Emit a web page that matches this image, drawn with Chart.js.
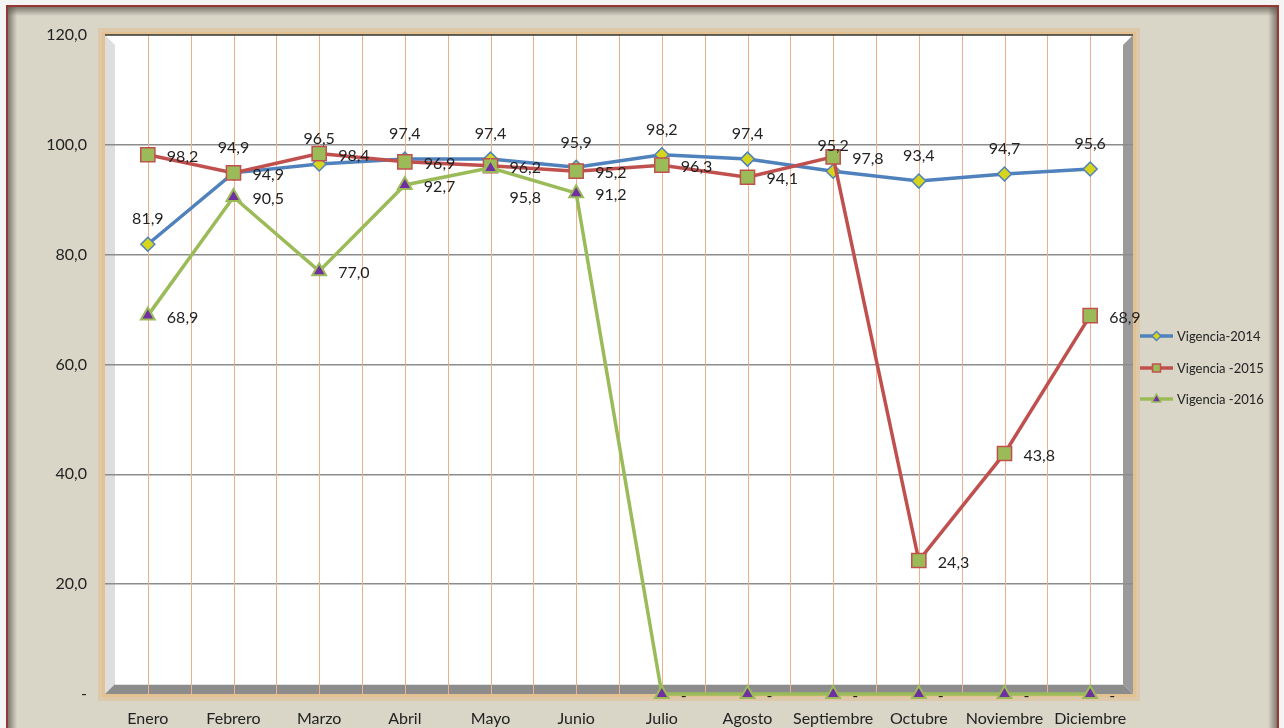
<!DOCTYPE html>
<html>
<head>
<meta charset="utf-8">
<script src="https://cdn.jsdelivr.net/npm/chart.js@4.4.0/dist/chart.umd.min.js"></script>
<style>
  html, body { margin: 0; padding: 0; background: #f4f4f4; }
  #wrap { width: 1284px; height: 728px; }
</style>
</head>
<body>
<div id="wrap"><canvas id="c" width="1284" height="728"></canvas></div>
<script>
const categories = ['Enero','Febrero','Marzo','Abril','Mayo','Junio','Julio','Agosto','Septiembre','Octubre','Noviembre','Diciembre'];
const seriesNames = ['Vigencia-2014','Vigencia -2015','Vigencia -2016'];
const vigencia2014 = [81.9, 94.9, 96.5, 97.4, 97.4, 95.9, 98.2, 97.4, 95.2, 93.4, 94.7, 95.6];
const vigencia2015 = [98.2, 94.9, 98.4, 96.9, 96.2, 95.2, 96.3, 94.1, 97.8, 24.3, 43.8, 68.9];
const vigencia2016 = [68.9, 90.5, 77.0, 92.7, 95.8, 91.2, 0, 0, 0, 0, 0, 0];
const yTicks = [0, 20, 40, 60, 80, 100, 120];

const FONT = 'Lato, "Open Sans", sans-serif';
const fmt = v => v === 0 ? '-' : v.toFixed(1).replace('.', ',');

const framePlugin = {
  id: 'frame',
  beforeDraw(chart) {
    const ctx = chart.ctx, a = chart.chartArea;
    ctx.save();
    ctx.fillStyle = '#f4f4f4';
    ctx.fillRect(0, 0, 1284, 728);
    const fx = 7, fy = 6, fw = 1278 - 7, fh = 740;
    ctx.fillStyle = '#d9d6c8';
    ctx.fillRect(fx, fy, fw, fh);
    let g = ctx.createLinearGradient(fx, 0, fx + 10, 0);
    g.addColorStop(0, 'rgba(90,85,75,0.8)'); g.addColorStop(1, 'rgba(90,85,75,0)');
    ctx.fillStyle = g; ctx.fillRect(fx, fy, 10, fh);
    g = ctx.createLinearGradient(0, fy, 0, fy + 10);
    g.addColorStop(0, 'rgba(90,85,75,0.8)'); g.addColorStop(1, 'rgba(90,85,75,0)');
    ctx.fillStyle = g; ctx.fillRect(fx, fy, fw, 10);
    g = ctx.createLinearGradient(fx + fw, 0, fx + fw - 10, 0);
    g.addColorStop(0, 'rgba(90,85,75,0.8)'); g.addColorStop(1, 'rgba(90,85,75,0)');
    ctx.fillStyle = g; ctx.fillRect(fx + fw - 10, fy, 10, fh);
    ctx.strokeStyle = '#953735'; ctx.lineWidth = 2;
    ctx.strokeRect(fx, fy, fw, fh);

    // plot area glow border
    ctx.strokeStyle = 'rgba(226,186,130,0.45)'; ctx.lineWidth = 7;
    ctx.strokeRect(a.left - 3.5, a.top - 3.5, a.width + 7, a.height + 7);
    ctx.strokeStyle = '#e4c190'; ctx.lineWidth = 3;
    ctx.strokeRect(a.left - 1.5, a.top - 1.5, a.width + 3, a.height + 3);
    ctx.fillStyle = '#ffffff';
    ctx.fillRect(a.left, a.top, a.width, a.height);

    const d = 10;
    ctx.fillStyle = '#dedede';
    ctx.beginPath();
    ctx.moveTo(a.left, a.top); ctx.lineTo(a.left + d, a.top + d);
    ctx.lineTo(a.left + d, a.bottom - d); ctx.lineTo(a.left, a.bottom); ctx.closePath(); ctx.fill();
    ctx.fillStyle = '#9a9a9a';
    ctx.beginPath();
    ctx.moveTo(a.right, a.top); ctx.lineTo(a.right - d, a.top + d);
    ctx.lineTo(a.right - d, a.bottom - d); ctx.lineTo(a.right, a.bottom); ctx.closePath(); ctx.fill();
    ctx.fillStyle = '#8c8c8c';
    ctx.beginPath();
    ctx.moveTo(a.left, a.bottom); ctx.lineTo(a.left + d, a.bottom - d);
    ctx.lineTo(a.right - d, a.bottom - d); ctx.lineTo(a.right, a.bottom); ctx.closePath(); ctx.fill();
    ctx.strokeStyle = '#e0e0e0'; ctx.lineWidth = 1;
    ctx.beginPath(); ctx.moveTo(a.left + d, a.bottom - d + 0.5); ctx.lineTo(a.right - d, a.bottom - d + 0.5); ctx.stroke();
    ctx.restore();
  },
  beforeDatasetsDraw(chart) {
    const ctx = chart.ctx, a = chart.chartArea, xs = chart.scales.x;
    ctx.save();
    ctx.strokeStyle = '#edb08a'; ctx.lineWidth = 1;
    for (let i = 0; i < categories.length; i++) {
      const x = Math.round(xs.getPixelForValue(i)) + 0.5;
      ctx.beginPath(); ctx.moveTo(x, a.top); ctx.lineTo(x, a.bottom); ctx.stroke();
      if (i < categories.length - 1) {
        const xm = Math.round((xs.getPixelForValue(i) + xs.getPixelForValue(i + 1)) / 2) + 0.5;
        ctx.beginPath(); ctx.moveTo(xm, a.top); ctx.lineTo(xm, a.bottom); ctx.stroke();
      }
    }
    ctx.strokeStyle = '#333'; ctx.lineWidth = 1.5;
    ctx.beginPath(); ctx.moveTo(a.left, a.top); ctx.lineTo(a.right, a.top); ctx.stroke();
    ctx.restore();
  },
  afterDatasetsDraw(chart) {
    const ctx = chart.ctx;
    ctx.save();
    ctx.font = '16px ' + FONT;
    ctx.fillStyle = '#222';
    const boxes = [];
    const hits = (b) => boxes.some(o => b.x < o.x + o.w && b.x + b.w > o.x && b.y < o.y + o.h && b.y + b.h > o.y);
    [0, 1, 2].forEach(di => {
      const ds = chart.data.datasets[di];
      const meta = chart.getDatasetMeta(di);
      meta.data.forEach((pt, i) => {
        const t = fmt(ds.data[i]);
        const w = ctx.measureText(t).width;
        let x, y;
        if (di === 0) { x = pt.x - w / 2; y = pt.y - 25; }
        else { x = pt.x + 19; y = pt.y + 2; }
        let b = { x: x, y: y - 8, w: w, h: 16 };
        if (di === 2 && hits(b)) { y += 28; b.y += 28; }
        boxes.push(b);
        ctx.textAlign = 'left'; ctx.textBaseline = 'middle';
        ctx.fillText(t, x, y);
      });
    });
    // legend
    const lx = 1140, ly = [336, 368, 399];
    ctx.font = '13px ' + FONT;
    chart.data.datasets.forEach((ds, di) => {
      const y = ly[di];
      ctx.strokeStyle = ds.borderColor; ctx.lineWidth = 3.5;
      ctx.beginPath(); ctx.moveTo(lx, y); ctx.lineTo(lx + 33, y); ctx.stroke();
      ctx.fillStyle = ds.pointBackgroundColor; ctx.strokeStyle = ds.pointBorderColor; ctx.lineWidth = 1.5;
      ctx.beginPath();
      if (ds.pointStyle === 'rectRot') {
        ctx.moveTo(lx + 16.5, y - 4.5); ctx.lineTo(lx + 21, y); ctx.lineTo(lx + 16.5, y + 4.5); ctx.lineTo(lx + 12, y);
      } else if (ds.pointStyle === 'rect') {
        ctx.rect(lx + 12.5, y - 4, 8, 8);
      } else {
        ctx.moveTo(lx + 16.5, y - 5); ctx.lineTo(lx + 21, y + 3); ctx.lineTo(lx + 12, y + 3);
      }
      ctx.closePath(); ctx.fill(); ctx.stroke();
      ctx.fillStyle = '#222'; ctx.textAlign = 'left'; ctx.textBaseline = 'middle';
      ctx.fillText(seriesNames[di], lx + 37, y + 1);
    });
    ctx.restore();
  }
};

new Chart(document.getElementById('c'), {
  type: 'line',
  data: {
    labels: categories,
    datasets: [
      { label: seriesNames[0], data: vigencia2014, order: 3, borderColor: '#4f81bd', borderWidth: 3.5,
        pointStyle: 'rectRot', pointRadius: 7, pointBackgroundColor: '#d6d41c', pointBorderColor: '#4f81bd', pointBorderWidth: 1.5 },
      { label: seriesNames[1], data: vigencia2015, order: 2, borderColor: '#c0504d', borderWidth: 3.5,
        pointStyle: 'rect', pointRadius: 10, pointBackgroundColor: '#9bbb59', pointBorderColor: '#c0504d', pointBorderWidth: 1.5 },
      { label: seriesNames[2], data: vigencia2016, order: 1, borderColor: '#9bbb59', borderWidth: 3.5,
        pointStyle: 'triangle', pointRadius: 8, pointBackgroundColor: '#7030a0', pointBorderColor: '#9bbb59', pointBorderWidth: 2 }
    ]
  },
  options: {
    responsive: false,
    animation: false,
    clip: false,
    layout: { padding: { top: 35, right: 151, left: 0, bottom: 0 } },
    plugins: { legend: { display: false }, tooltip: { enabled: false }, title: { display: false } },
    scales: {
      x: {
        offset: true,
        grid: { display: false, drawTicks: false },
        border: { display: false },
        ticks: { color: '#222', font: { family: FONT, size: 16 }, padding: 15, maxRotation: 0, autoSkip: false },
        afterFit(s) { s.height = 34; }
      },
      y: {
        min: 0, max: 120,
        afterBuildTicks(s) { s.ticks = yTicks.map(v => ({ value: v })); },
        grid: {
          drawTicks: false, lineWidth: 1.5,
          color: c => (c.tick && (c.tick.value === 0 || c.tick.value === 120)) ? 'rgba(0,0,0,0)' : '#8c8c8c'
        },
        border: { display: false },
        ticks: { color: '#222', font: { family: FONT, size: 16 }, padding: 18, callback: v => fmt(v) },
        afterFit(s) { s.width = 105; }
      }
    }
  },
  plugins: [framePlugin]
});
</script>
</body>
</html>
